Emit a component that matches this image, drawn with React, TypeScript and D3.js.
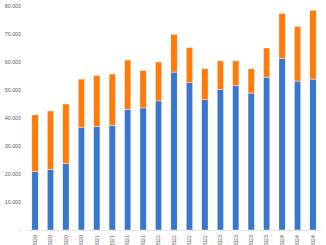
import React, { useEffect, useRef } from "react";
import * as d3 from "d3";

const categories = [
  "Q1 2020", "Q2 2020", "Q3 2020", "Q4 2020",
  "Q1 2021", "Q2 2021", "Q3 2021", "Q4 2021",
  "Q1 2022", "Q2 2022", "Q3 2022", "Q4 2022",
  "Q1 2023", "Q2 2023", "Q3 2023", "Q4 2023",
  "Q1 2024", "Q2 2024", "Q3 2024",
];
const blueValues = [20800, 21700, 23700, 36500, 37000, 37400, 43100, 43600, 46100, 56400, 52600, 46500, 50100, 51500, 48900, 54600, 61200, 53200, 53900];
const totalValues = [41100, 42500, 45000, 53900, 55200, 55700, 60700, 57000, 60000, 69900, 65200, 57600, 60400, 60400, 57600, 65000, 77300, 72700, 78500];
const orangeValues = totalValues.map((t, i) => t - blueValues[i]);
const yTicks = [0, 10000, 20000, 30000, 40000, 50000, 60000, 70000, 80000];

const W = 326, H = 245;

export default function App() {
  const ref = useRef<SVGSVGElement>(null);
  useEffect(() => {
    const svg = d3.select(ref.current);
    svg.selectAll("*").remove();
    const x = d3.scaleBand().domain(categories).range([27.3, 320.7]).paddingInner(0.59).paddingOuter(0.295);
    const y = d3.scaleLinear().domain([0, 80000]).range([230, 6]);
    const fmt = (v: number) => (v === 0 ? "-" : d3.format(",")(v).replace(/,/g, ".") );

    const yg = svg.append("g");
    yTicks.forEach((t) => {
      yg.append("text")
        .attr("x", t === 0 ? 20.5 : 21)
        .attr("y", y(t))
        .attr("dy", "0.35em")
        .attr("text-anchor", "end")
        .attr("font-family", "Liberation Sans, Arial, sans-serif")
        .attr("font-size", 5.3)
        .attr("fill", "#595959")
        .text(fmt(t));
    });

    svg.append("line")
      .attr("x1", 27.3).attr("x2", 320.7)
      .attr("y1", y(0) + 0.5).attr("y2", y(0) + 0.5)
      .attr("stroke", "#d9d9d9").attr("stroke-width", 0.8);

    const stack = categories.map((c, i) => ({ c, b: blueValues[i], o: orangeValues[i] }));
    const g = svg.append("g");
    g.selectAll("rect.blue").data(stack).enter().append("rect")
      .attr("x", (d) => x(d.c)!)
      .attr("width", x.bandwidth())
      .attr("y", (d) => y(d.b))
      .attr("height", (d) => y(0) - y(d.b))
      .attr("fill", "#3A77CC")
      .attr("stroke", "#ffffff").attr("stroke-width", 0.4);
    g.selectAll("rect.orange").data(stack).enter().append("rect")
      .attr("x", (d) => x(d.c)!)
      .attr("width", x.bandwidth())
      .attr("y", (d) => y(d.b + d.o))
      .attr("height", (d) => y(d.b) - y(d.b + d.o))
      .attr("fill", "#FF7B0B")
      .attr("stroke", "#ffffff").attr("stroke-width", 0.4);

    const xg = svg.append("g");
    categories.forEach((c) => {
      const cx = x(c)! + x.bandwidth() / 2;
      xg.append("text")
        .attr("transform", `translate(${cx + 1.8},235) rotate(-90)`)
        .attr("text-anchor", "end")
        .attr("font-family", "Liberation Sans, Arial, sans-serif")
        .attr("font-size", 5.3)
        .attr("fill", "#595959")
        .text(c);
    });
  }, []);
  return (
    <svg ref={ref} width={W} height={H} style={{ position: "absolute", left: 0, top: 0, background: "#fff" }} />
  );
}
